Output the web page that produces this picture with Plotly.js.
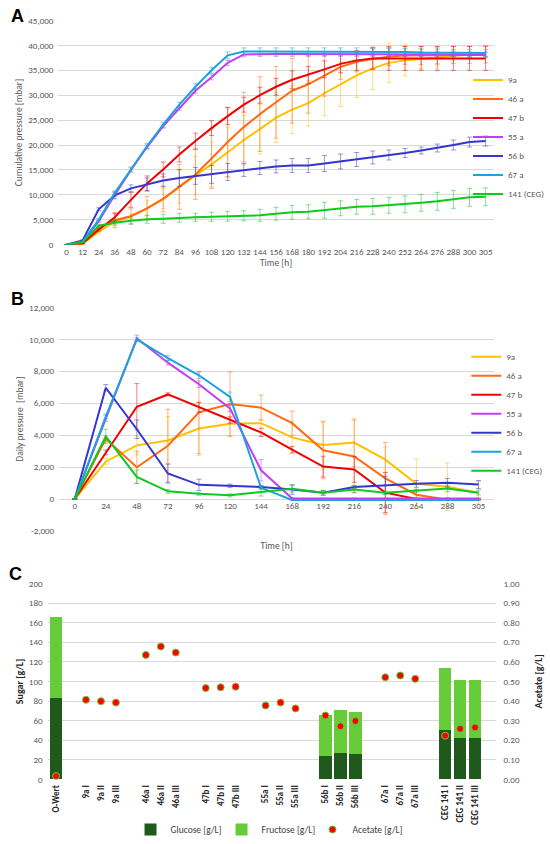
<!DOCTYPE html>
<html>
<head>
<meta charset="utf-8">
<script src="https://cdn.plot.ly/plotly-3.0.1.min.js"></script>
<style>
  html, body { margin: 0; padding: 0; background: #fff; }
  #chart { width: 550px; height: 844px; }
</style>
</head>
<body>
<div id="chart"></div>
<script>
// ---------- Panel A: cumulative pressure ----------
const timeA = ['0','12','24','36','48','60','72','84','96','108','120','132','144','156','168','180','192','204','216','228','240','252','264','276','288','300','305'];
const seriesNames = ['9a','46 a','47 b','55 a','56 b','67 a','141 (CEG)'];
const seriesColors = ['#FFC000','#FF6A13','#F00000','#C040F0','#3535D0','#1AA3DC','#10C820'];

const cum_9a   = [0,200,2600,4600,5700,7300,9200,11600,13900,16100,18600,21000,23200,25500,27100,28400,30400,32200,34000,35400,36500,37000,37300,37600,37900,38200,38300];
const cum_46a  = [0,200,3400,4900,5700,7300,9200,11600,14100,17300,20600,23600,26200,28600,30900,32200,33900,35700,36700,37300,37800,38000,38000,38000,38100,38100,38200];
const cum_47b  = [0,300,3000,5500,9000,12300,15100,18100,20800,23400,25800,28100,30000,31700,33100,34100,35200,36300,37000,37400,37400,37400,37400,37400,37400,37400,37400];
const cum_55a  = [0,500,4700,10000,15000,19600,23800,27400,30900,33600,36500,38200,38300,38300,38300,38300,38300,38300,38300,38300,38300,38300,38200,38200,38200,38100,38100];
const cum_56b  = [0,850,7100,9900,11300,12100,12900,13400,13800,14100,14600,15000,15400,15700,15900,15900,16300,16700,17100,17500,18000,18400,18900,19400,20000,20600,20800];
const cum_67a  = [0,600,5000,10400,15100,19800,24100,28100,31700,35000,38000,38800,38800,38800,38800,38800,38800,38800,38800,38700,38700,38700,38600,38600,38500,38500,38500];
const cum_141  = [0,500,3800,4400,4800,5100,5200,5400,5500,5600,5700,5800,5900,6200,6500,6600,6900,7300,7600,7700,7900,8100,8400,8700,9100,9500,9600];

const cumErr_9a  = [0,100,300,500,500,1500,2000,3300,3800,4500,5000,5000,5000,5000,4800,4600,4500,4450,4450,4300,4000,3100,2000,1500,1000,600,500];
const cumErr_46a = [0,100,300,1500,1500,2400,2600,4500,5000,6000,7000,7000,7500,7200,6500,5800,4100,2500,2000,2000,1800,1800,1800,1700,1700,1700,1700];
const cumErr_47b = [0,100,300,800,1500,1500,1500,1500,1600,1500,1700,1500,1600,1700,1800,1700,1700,1800,2000,2200,2400,2400,2400,2400,2400,2400,2400];
const cumErr_55a = [0,100,200,400,400,400,400,400,500,500,500,500,500,500,500,500,500,500,500,500,500,500,500,500,500,500,500];
const cumErr_56b = [0,100,300,700,700,1300,1300,1700,1700,1800,1700,1300,1300,1300,1400,1400,1600,1500,1400,1300,1000,900,700,800,1000,1000,1000];
const cumErr_67a = [0,100,200,400,500,500,500,500,600,600,700,700,700,700,700,700,700,700,700,700,700,700,700,700,700,700,700];
const cumErr_141 = [0,100,300,500,700,800,900,900,800,900,1000,1000,1200,1300,1400,1400,1600,1500,1500,1600,1600,1700,1700,1800,1800,1800,1800];

// ---------- Panel B: daily pressure ----------
const timeB = ['0','24','48','72','96','120','144','168','192','216','240','264','288','305'];
const day_9a  = [0,2340,3360,3670,4420,4710,4750,3860,3380,3540,2470,950,770,400];
const day_46a = [0,3770,1990,3340,5430,5950,5720,4750,3050,2670,1290,270,-40,-40];
const day_47b = [0,2920,5780,6550,5740,4950,4170,3090,2030,1850,400,0,0,0];
const day_55a = [0,5060,10070,8540,7190,5680,1800,40,40,40,40,40,40,40];
const day_56b = [0,6970,4370,1600,890,830,750,600,390,750,870,950,1020,910];
const day_67a = [0,5160,10000,8830,7750,6400,700,-60,-60,-60,-60,-60,-60,-60];
const day_141 = [0,3920,1390,480,330,230,435,640,390,600,390,520,660,400];

const dayErr_9a  = [0,200,600,1500,1700,800,250,1000,1500,1500,800,1560,1490,700];
const dayErr_46a = [0,200,1000,2280,2580,2010,790,760,1780,2280,2250,300,50,50];
const dayErr_47b = [0,150,1450,100,300,200,250,200,650,800,1250,50,50,50];
const dayErr_55a = [0,200,200,150,200,200,670,50,20,20,20,20,20,20];
const dayErr_56b = [0,200,580,600,350,100,100,300,150,100,560,210,270,250];
const dayErr_67a = [0,150,100,150,200,300,100,20,20,20,20,20,20,20];
const dayErr_141 = [0,450,420,120,100,100,250,200,150,200,100,100,200,150];

const dailyTickVals = [-2000,0,2000,4000,6000,8000,10000,12000];
const dailyTickText = ['-2,000','0','2,000','4,000','6,000','8,000','10,000','12,000'];

// ---------- Panel C: sugars and acetate ----------
const samples = ['O-Wert',' ','9a I','9a II','9a III','  ','46a I','46a II','46a III','   ','47b I','47b II','47b III','    ','55a I','55a II','55a III','     ','56b I','56b II','56b III','      ','67a I','67a II','67a III','       ','CEG 141 I','CEG 141 II','CEG 141 III'];
const glucose  = [83.4,null,0,0,0,null,0,0,0,null,0,0,0,null,0,0,0,null,24.2,26.8,25.5,null,0,0,0,null,50.6,41.9,42.6];
const fructose = [82.4,null,0,0,0.8,null,0,0,0,null,0,0,0,null,0,0,0,null,41.6,44.0,43.6,null,0,0,0,null,62.7,59.3,58.7];
const acetate  = [0.017,null,0.406,0.399,0.392,null,0.635,0.678,0.647,null,0.466,0.470,0.473,null,0.377,0.392,0.362,null,0.326,0.271,0.298,null,0.521,0.530,0.513,null,0.223,0.258,0.265];

const cumData = [cum_9a,cum_46a,cum_47b,cum_55a,cum_56b,cum_67a,cum_141];
const cumErrs = [cumErr_9a,cumErr_46a,cumErr_47b,cumErr_55a,cumErr_56b,cumErr_67a,cumErr_141];
const dayData = [day_9a,day_46a,day_47b,day_55a,day_56b,day_67a,day_141];
const dayErrs = [dayErr_9a,dayErr_46a,dayErr_47b,dayErr_55a,dayErr_56b,dayErr_67a,dayErr_141];

function rgba(hex, a) {
  const n = parseInt(hex.slice(1), 16);
  return 'rgba(' + ((n >> 16) & 255) + ',' + ((n >> 8) & 255) + ',' + (n & 255) + ',' + a + ')';
}

const FONT = 'Carlito, Calibri, Lato, "Open Sans", sans-serif';
const GRAY = '#595959';
const traces = [];

seriesNames.forEach((name, i) => {
  traces.push({
    type: 'scatter', mode: 'lines', name: name,
    x: timeA, y: cumData[i], xaxis: 'x', yaxis: 'y',
    line: { color: seriesColors[i], width: 2 },
    error_y: { type: 'data', array: cumErrs[i], visible: true, color: rgba(seriesColors[i], 0.5), thickness: 1, width: 2.5 },
    legend: 'legend', hoverinfo: 'x+y+name'
  });
});
seriesNames.forEach((name, i) => {
  traces.push({
    type: 'scatter', mode: 'lines', name: name,
    x: timeB, y: dayData[i], xaxis: 'x2', yaxis: 'y2',
    line: { color: seriesColors[i], width: 2 },
    error_y: { type: 'data', array: dayErrs[i], visible: true, color: rgba(seriesColors[i], 0.5), thickness: 1, width: 2.5 },
    legend: 'legend2', hoverinfo: 'x+y+name'
  });
});

traces.push({
  type: 'bar', name: 'Glucose [g/L]', x: samples, y: glucose, xaxis: 'x3', yaxis: 'y3',
  marker: { color: '#1F5A1C' }, legend: 'legend3'
});
traces.push({
  type: 'bar', name: 'Fructose [g/L]', x: samples, y: fructose, xaxis: 'x3', yaxis: 'y3',
  marker: { color: '#66CC3A' }, legend: 'legend3'
});
traces.push({
  type: 'scatter', mode: 'markers', name: 'Acetate [g/L]', x: samples, y: acetate, xaxis: 'x3', yaxis: 'y4',
  marker: { color: '#FF0000', size: 7, line: { color: '#66CC3A', width: 1 } }, legend: 'legend3'
});

const H = 844, W = 550;
const py = p => 1 - p / H;
const px = p => p / W;

const tickF = { family: FONT, size: 9, color: GRAY };
const titleF = { family: FONT, size: 9.5, color: GRAY };

const layout = {
  width: W, height: H,
  margin: { l: 0, r: 0, t: 0, b: 0 },
  paper_bgcolor: '#fff', plot_bgcolor: 'rgba(0,0,0,0)',
  font: { family: FONT, size: 9, color: GRAY },
  barmode: 'stack', bargap: 0.155,
  showlegend: true,
  xaxis: {
    domain: [px(58.6), px(495.5)], anchor: 'y', type: 'category',
    categoryorder: 'array', categoryarray: timeA, range: [-0.5, 26.5],
    showgrid: false, zeroline: false, showline: false, ticks: '',
    tickfont: tickF, tickangle: 0,
    title: { text: 'Time [h]', font: titleF, standoff: 3 }
  },
  yaxis: {
    domain: [py(246.7), py(20.7)], anchor: 'x', range: [0, 45000], dtick: 5000,
    tickformat: ',d', gridcolor: '#D9D9D9', gridwidth: 1, zeroline: false, showline: false,
    ticks: '', tickfont: tickF, ticklabelstandoff: 4,
    title: { text: 'Cumulative pressure [mbar]', font: titleF, standoff: 3 }
  },
  xaxis2: {
    domain: [px(59.4), px(495.8)], anchor: 'free', position: py(503), type: 'category',
    categoryorder: 'array', categoryarray: timeB, range: [-0.5, 13.5],
    showgrid: false, zeroline: false, showline: false, ticks: '',
    tickfont: tickF, tickangle: 0,
    title: { text: 'Time [h]', font: titleF, standoff: 32 }
  },
  yaxis2: {
    domain: [py(535.4), py(310)], anchor: 'x2', range: [-2000, 12000],
    tickmode: 'array', tickvals: dailyTickVals, ticktext: dailyTickText,
    gridcolor: '#D9D9D9', gridwidth: 1, zeroline: false, showline: false,
    ticks: '', tickfont: tickF, ticklabelstandoff: 4,
    title: { text: 'Daily pressure  [mbar]', font: titleF, standoff: 3 }
  },
  xaxis3: {
    domain: [px(47.7), px(498.3)], anchor: 'y3', type: 'category',
    categoryorder: 'array', categoryarray: samples, range: [-0.57, 29.43],
    showgrid: false, zeroline: false, showline: false, ticks: '',
    tickfont: { family: FONT, size: 9, color: '#262626', weight: 'bold' }, tickangle: -90,
    ticklabelstandoff: 3
  },
  yaxis3: {
    domain: [py(785.9), py(588.3)], anchor: 'x3', range: [0, 200], dtick: 20,
    gridcolor: '#D9D9D9', gridwidth: 1, zeroline: false, showline: false,
    ticks: '', tickfont: tickF, ticklabelstandoff: 4,
    title: { text: 'Sugar [g/L]', font: { family: FONT, size: 10, color: '#262626', weight: 'bold' }, standoff: 3 }
  },
  yaxis4: {
    overlaying: 'y3', side: 'right', anchor: 'x3', range: [0, 1], dtick: 0.1,
    tickformat: '.2f', showgrid: false, zeroline: false, showline: false,
    ticks: '', tickfont: tickF, ticklabelstandoff: 6,
    title: { text: 'Acetate [g/L]', font: { family: FONT, size: 10, color: '#262626', weight: 'bold' }, standoff: 16 }
  },
  legend: {
    x: px(470), xanchor: 'left', y: py(66), yanchor: 'top',
    bgcolor: 'rgba(0,0,0,0)', font: { family: FONT, size: 9, color: GRAY },
    itemwidth: 30, tracegroupgap: 0
  },
  legend2: {
    x: px(468), xanchor: 'left', y: py(345), yanchor: 'top',
    bgcolor: 'rgba(0,0,0,0)', font: { family: FONT, size: 9, color: GRAY },
    itemwidth: 30, tracegroupgap: 0
  },
  legend3: {
    orientation: 'h', x: px(131), xanchor: 'left', y: py(822), yanchor: 'top',
    bgcolor: 'rgba(0,0,0,0)', font: { family: FONT, size: 9.5, color: '#404040' },
    itemwidth: 30, entrywidth: 46, traceorder: 'normal'
  },
  annotations: [
    { text: '<b>A</b>', xref: 'paper', yref: 'paper', x: px(9), y: py(16), xanchor: 'left', yanchor: 'middle', showarrow: false, font: { family: 'Liberation Sans, Arial, sans-serif', size: 18, color: '#000' } },
    { text: '<b>B</b>', xref: 'paper', yref: 'paper', x: px(9), y: py(302), xanchor: 'left', yanchor: 'middle', showarrow: false, font: { family: 'Liberation Sans, Arial, sans-serif', size: 18, color: '#000' } },
    { text: '<b>C</b>', xref: 'paper', yref: 'paper', x: px(7), y: py(579), xanchor: 'left', yanchor: 'middle', showarrow: false, font: { family: 'Liberation Sans, Arial, sans-serif', size: 18, color: '#000' } }
  ]
};

Plotly.newPlot('chart', traces, layout, { displayModeBar: false, staticPlot: true });
</script>
</body>
</html>
